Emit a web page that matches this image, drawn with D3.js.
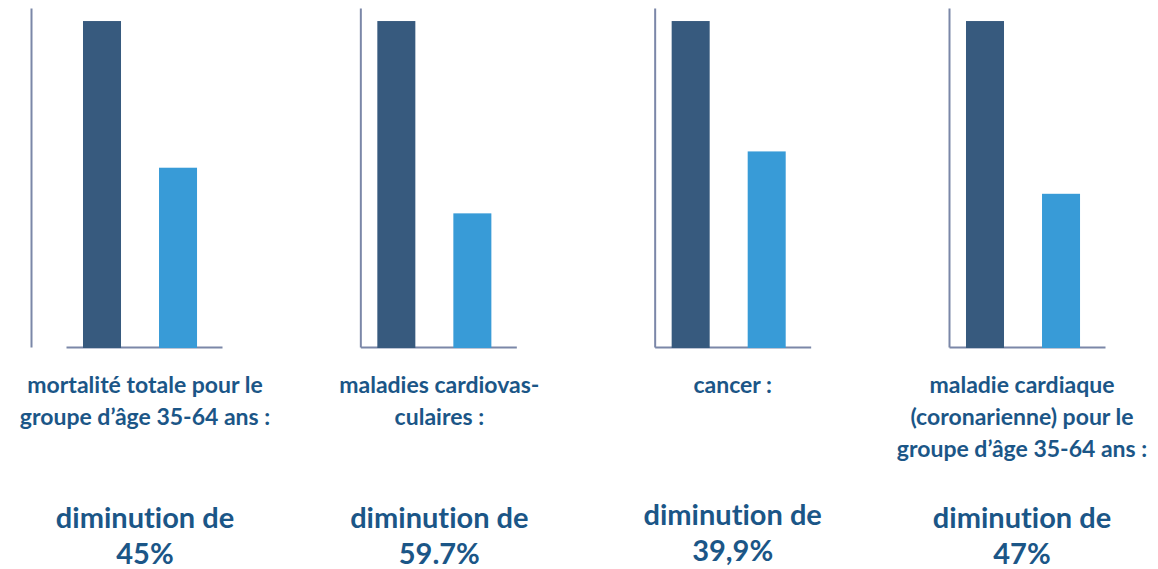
<!DOCTYPE html>
<html>
<head>
<meta charset="utf-8">
<script src="https://cdn.jsdelivr.net/npm/d3@7"></script>
<style>
  body { margin: 0; background: #fff; }
  text { font-family: Lato, "Open Sans", sans-serif; font-weight: 700; fill: #1b5687;
         font-variant-ligatures: none; font-feature-settings: "liga" 0, "dlig" 0; }
</style>
</head>
<body>
<div id="chart"></div>
<script>
// data
const categories = ["mortalite", "cardiovasculaire", "cancer", "coronarienne"];
const series = ["avant", "après"];
const before = [100, 100, 100, 100];
const after = [55, 41, 60, 47];
const labels = [
    ["mortalité totale pour le", "groupe d’âge 35-64 ans :"],
    ["maladies cardiovas-", "culaires :"],
    ["cancer :"],
    ["maladie cardiaque", "(coronarienne) pour le", "groupe d’âge 35-64 ans :"]
];
const decreases = ["45%", "59.7%", "39,9%", "47%"];

const width = 1158, height = 569;
const colors = ["#375a7e", "#389bd7"];
const axisColor = "#7b87a8";

const svg = d3.select("#chart").append("svg")
    .attr("width", width).attr("height", height);

const panelX = d3.scalePoint().domain(categories).range([66, 949]);
const panelW = 156;

const x = d3.scaleBand().domain(series).range([0, panelW])
    .paddingInner(0.5).paddingOuter(0.276).align(0.405);
const y = d3.scaleLinear().domain([0, 104]).range([347, 8]);

// first panel has its vertical rule further left
const ruleShift = [-35, 0, 0, 0];
const textShift = [1, 1, 0, -5];

categories.forEach((c, i) => {
    const g = svg.append("g").attr("transform", `translate(${panelX(c)},0)`);

    const yAxis = g.append("g")
        .attr("transform", `translate(${ruleShift[i]},0)`)
        .call(d3.axisLeft(y).ticks(0).tickSize(0).tickSizeOuter(0));
    const xAxis = g.append("g")
        .attr("transform", `translate(0,${y(0)})`)
        .call(d3.axisBottom(x).tickSize(0).tickSizeOuter(0).tickFormat(""));
    [yAxis, xAxis].forEach(a => {
        a.select(".domain").attr("stroke", axisColor).attr("stroke-width", 2);
        a.selectAll(".tick").remove();
    });

    const vals = [before[i], after[i]];
    g.selectAll("rect").data(vals).join("rect")
        .attr("x", (d, j) => x(series[j]))
        .attr("width", x.bandwidth())
        .attr("y", d => y(d))
        .attr("height", d => y(0) - y(d) + 1)
        .attr("fill", (d, j) => colors[j]);

    const cx = panelW / 2 + textShift[i];
    labels[i].forEach((line, k) => {
        g.append("text")
            .attr("x", cx).attr("y", 393 + k * 32)
            .attr("text-anchor", "middle")
            .attr("font-size", 23)
            .text(line);
    });
    const dy = i === 2 ? -3 : 0;
    g.append("text")
        .attr("x", cx).attr("y", 528 + dy)
        .attr("text-anchor", "middle")
        .attr("font-size", 29)
        .text("diminution de");
    g.append("text")
        .attr("x", cx).attr("y", 564 + dy)
        .attr("text-anchor", "middle")
        .attr("font-size", 29)
        .text(decreases[i]);
});
</script>
</body>
</html>
